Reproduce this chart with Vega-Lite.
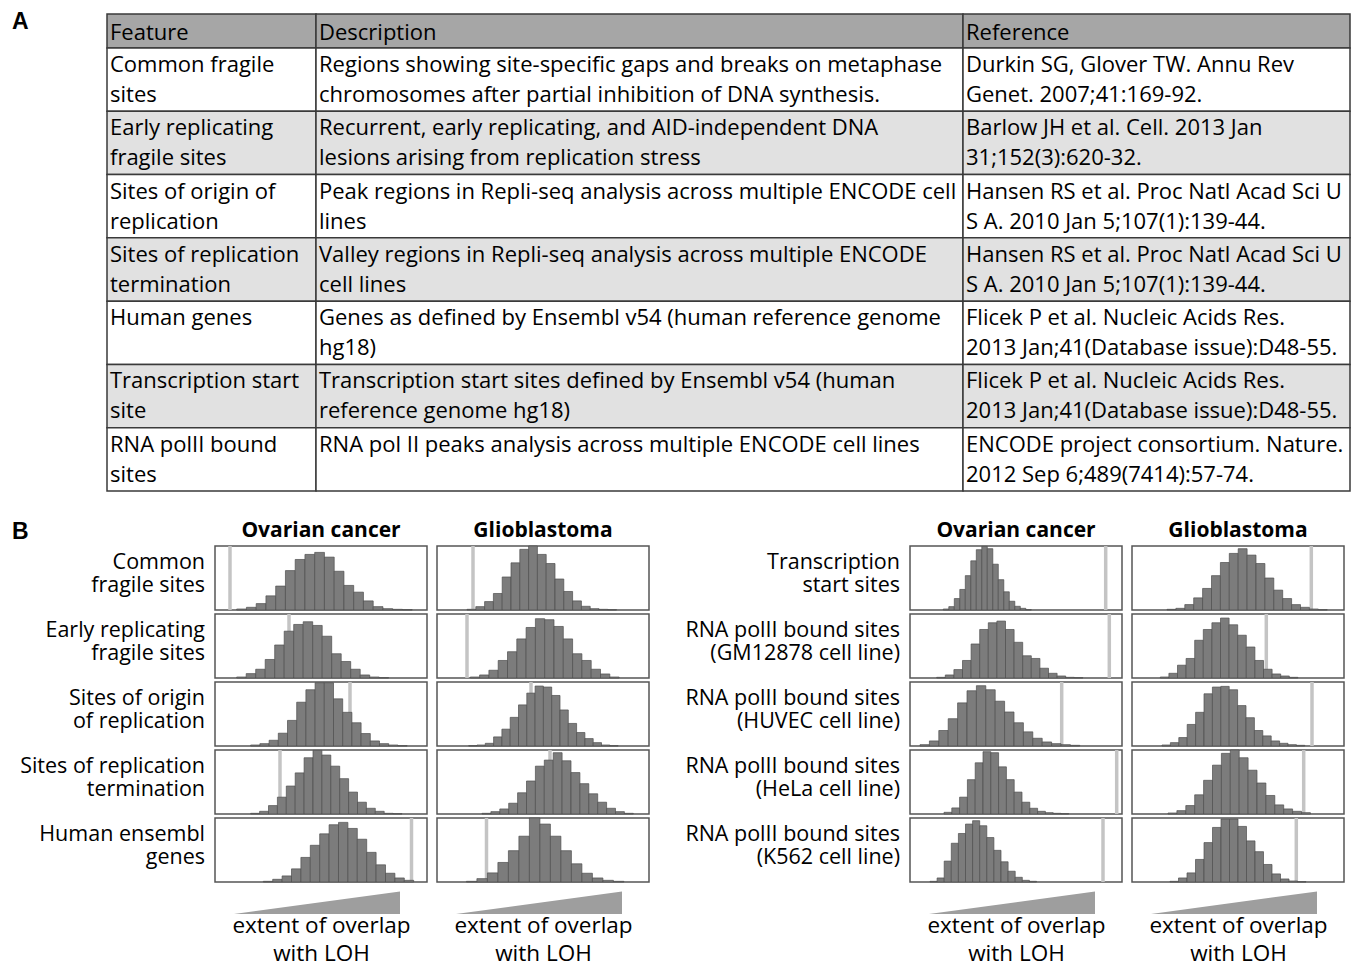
{
  "$schema": "https://vega.github.io/schema/vega-lite/v6.json",
  "padding": {"left": 5, "top": 11, "right": 0, "bottom": 0},
  "background": "white",
  "config": {"view": {"stroke": null}, "font": "Open Sans", "text": {"font": "Open Sans", "color": "#000000"}},
  "datasets": {
    "table": [
      {"r": 1, "feature": "Common fragile\nsites", "description": "Regions showing site-specific gaps and breaks on metaphase\nchromosomes after partial inhibition of DNA synthesis.", "reference": "Durkin SG, Glover TW. Annu Rev\nGenet. 2007;41:169-92."},
      {"r": 2, "feature": "Early replicating\nfragile sites", "description": "Recurrent, early replicating, and AID-independent DNA\nlesions arising from replication stress", "reference": "Barlow JH et al. Cell. 2013 Jan\n31;152(3):620-32."},
      {"r": 3, "feature": "Sites of origin of\nreplication", "description": "Peak regions in Repli-seq analysis across multiple ENCODE cell\nlines", "reference": "Hansen RS et al. Proc Natl Acad Sci U\nS A. 2010 Jan 5;107(1):139-44."},
      {"r": 4, "feature": "Sites of replication\ntermination", "description": "Valley regions in Repli-seq analysis across multiple ENCODE\ncell lines", "reference": "Hansen RS et al. Proc Natl Acad Sci U\nS A. 2010 Jan 5;107(1):139-44."},
      {"r": 5, "feature": "Human  genes", "description": "Genes as defined by Ensembl v54 (human reference genome\nhg18)", "reference": "Flicek P et al. Nucleic Acids Res.\n2013 Jan;41(Database issue):D48-55."},
      {"r": 6, "feature": "Transcription start\nsite", "description": "Transcription start sites defined by Ensembl v54 (human\nreference genome hg18)", "reference": "Flicek P et al. Nucleic Acids Res.\n2013 Jan;41(Database issue):D48-55."},
      {"r": 7, "feature": "RNA polII bound\nsites", "description": "RNA pol II peaks analysis across multiple ENCODE cell lines", "reference": "ENCODE project consortium. Nature.\n2012 Sep 6;489(7414):57-74."}
    ],
    "labels": [
      {"grp": "L", "feat": "1", "lab": "Common\nfragile sites"},
      {"grp": "L", "feat": "2", "lab": "Early replicating\nfragile sites"},
      {"grp": "L", "feat": "3", "lab": "Sites of origin\nof replication"},
      {"grp": "L", "feat": "4", "lab": "Sites of replication\ntermination"},
      {"grp": "L", "feat": "5", "lab": "Human ensembl\ngenes"},
      {"grp": "R", "feat": "1", "lab": "Transcription\nstart sites"},
      {"grp": "R", "feat": "2", "lab": "RNA polII bound sites\n(GM12878 cell line)"},
      {"grp": "R", "feat": "3", "lab": "RNA polII bound sites\n(HUVEC cell line)"},
      {"grp": "R", "feat": "4", "lab": "RNA polII bound sites\n(HeLa cell line)"},
      {"grp": "R", "feat": "5", "lab": "RNA polII bound sites\n(K562 cell line)"}
    ],
    "panels": [
      {"p": "L1o", "grp": "L", "feat": "1", "cancer": "Ovarian cancer", "start": 10.85, "step": 4.875, "obs": 7.5},
      {"p": "L1g", "grp": "L", "feat": "1", "cancer": "Glioblastoma", "start": 15, "step": 4.4, "obs": 18},
      {"p": "L2o", "grp": "L", "feat": "2", "cancer": "Ovarian cancer", "start": 10.85, "step": 4.75, "obs": 37},
      {"p": "L2g", "grp": "L", "feat": "2", "cancer": "Glioblastoma", "start": 16.65, "step": 4.65, "obs": 15},
      {"p": "L3o", "grp": "L", "feat": "3", "cancer": "Ovarian cancer", "start": 17.85, "step": 4.6, "obs": 67.5},
      {"p": "L3g", "grp": "L", "feat": "3", "cancer": "Glioblastoma", "start": 15.85, "step": 4.15, "obs": 47},
      {"p": "L4o", "grp": "L", "feat": "4", "cancer": "Ovarian cancer", "start": 17.85, "step": 4.45, "obs": 32.5},
      {"p": "L4g", "grp": "L", "feat": "4", "cancer": "Glioblastoma", "start": 22.5, "step": 4.45, "obs": 56.5},
      {"p": "L5o", "grp": "L", "feat": "5", "cancer": "Ovarian cancer", "start": 24.15, "step": 4.7, "obs": 98.25},
      {"p": "L5g", "grp": "L", "feat": "5", "cancer": "Glioblastoma", "start": 14.7, "step": 5.25, "obs": 24.75},
      {"p": "R1o", "grp": "R", "feat": "1", "cancer": "Ovarian cancer", "start": 16.65, "step": 2.75, "obs": 97.85},
      {"p": "R1g", "grp": "R", "feat": "1", "cancer": "Glioblastoma", "start": 17.5, "step": 4.45, "obs": 89.65},
      {"p": "R2o", "grp": "R", "feat": "2", "cancer": "Ovarian cancer", "start": 13.35, "step": 4.3, "obs": 99.65},
      {"p": "R2g", "grp": "R", "feat": "2", "cancer": "Glioblastoma", "start": 14.15, "step": 4.3, "obs": 67.15},
      {"p": "R3o", "grp": "R", "feat": "3", "cancer": "Ovarian cancer", "start": 5, "step": 4.7, "obs": 75.85},
      {"p": "R3g", "grp": "R", "feat": "3", "cancer": "Glioblastoma", "start": 15, "step": 4.2, "obs": 90},
      {"p": "R4o", "grp": "R", "feat": "4", "cancer": "Ovarian cancer", "start": 17, "step": 3.9, "obs": 103.35},
      {"p": "R4g", "grp": "R", "feat": "4", "cancer": "Glioblastoma", "start": 18, "step": 4.45, "obs": 85.85},
      {"p": "R5o", "grp": "R", "feat": "5", "cancer": "Ovarian cancer", "start": 10, "step": 3.55, "obs": 96.5},
      {"p": "R5g", "grp": "R", "feat": "5", "cancer": "Glioblastoma", "start": 19, "step": 4.25, "obs": 82.15}
    ],
    "hist": [
      {"p":"L1o","k":0,"n":3},{"p":"L1o","k":1,"n":8},{"p":"L1o","k":2,"n":19},{"p":"L1o","k":3,"n":42},{"p":"L1o","k":4,"n":71},{"p":"L1o","k":5,"n":117},{"p":"L1o","k":6,"n":150},{"p":"L1o","k":7,"n":165},{"p":"L1o","k":8,"n":171},{"p":"L1o","k":9,"n":157},{"p":"L1o","k":10,"n":115},{"p":"L1o","k":11,"n":73},{"p":"L1o","k":12,"n":53},{"p":"L1o","k":13,"n":27},{"p":"L1o","k":14,"n":10},{"p":"L1o","k":15,"n":4},{"p":"L1o","k":16,"n":2},{"p":"L1o","k":17,"n":1},
      {"p":"L1g","k":0,"n":2},{"p":"L1g","k":1,"n":10},{"p":"L1g","k":2,"n":25},{"p":"L1g","k":3,"n":49},{"p":"L1g","k":4,"n":98},{"p":"L1g","k":5,"n":140},{"p":"L1g","k":6,"n":180},{"p":"L1g","k":7,"n":190},{"p":"L1g","k":8,"n":165},{"p":"L1g","k":9,"n":138},{"p":"L1g","k":10,"n":92},{"p":"L1g","k":11,"n":55},{"p":"L1g","k":12,"n":27},{"p":"L1g","k":13,"n":11},{"p":"L1g","k":14,"n":4},{"p":"L1g","k":15,"n":2},{"p":"L1g","k":16,"n":1},
      {"p":"L2o","k":0,"n":3},{"p":"L2o","k":1,"n":13},{"p":"L2o","k":2,"n":26},{"p":"L2o","k":3,"n":55},{"p":"L2o","k":4,"n":98},{"p":"L2o","k":5,"n":139},{"p":"L2o","k":6,"n":159},{"p":"L2o","k":7,"n":167},{"p":"L2o","k":8,"n":156},{"p":"L2o","k":9,"n":124},{"p":"L2o","k":10,"n":72},{"p":"L2o","k":11,"n":49},{"p":"L2o","k":12,"n":26},{"p":"L2o","k":13,"n":9},{"p":"L2o","k":14,"n":3},{"p":"L2o","k":15,"n":1},
      {"p":"L2g","k":0,"n":3},{"p":"L2g","k":1,"n":9},{"p":"L2g","k":2,"n":23},{"p":"L2g","k":3,"n":52},{"p":"L2g","k":4,"n":78},{"p":"L2g","k":5,"n":116},{"p":"L2g","k":6,"n":150},{"p":"L2g","k":7,"n":176},{"p":"L2g","k":8,"n":173},{"p":"L2g","k":9,"n":153},{"p":"L2g","k":10,"n":116},{"p":"L2g","k":11,"n":72},{"p":"L2g","k":12,"n":52},{"p":"L2g","k":13,"n":26},{"p":"L2g","k":14,"n":12},{"p":"L2g","k":15,"n":3},
      {"p":"L3o","k":0,"n":3},{"p":"L3o","k":1,"n":7},{"p":"L3o","k":2,"n":17},{"p":"L3o","k":3,"n":38},{"p":"L3o","k":4,"n":76},{"p":"L3o","k":5,"n":130},{"p":"L3o","k":6,"n":167},{"p":"L3o","k":7,"n":188},{"p":"L3o","k":8,"n":188},{"p":"L3o","k":9,"n":140},{"p":"L3o","k":10,"n":100},{"p":"L3o","k":11,"n":69},{"p":"L3o","k":12,"n":37},{"p":"L3o","k":13,"n":15},{"p":"L3o","k":14,"n":7},{"p":"L3o","k":15,"n":3},{"p":"L3o","k":16,"n":1},
      {"p":"L3g","k":0,"n":1},{"p":"L3g","k":1,"n":3},{"p":"L3g","k":2,"n":8},{"p":"L3g","k":3,"n":27},{"p":"L3g","k":4,"n":50},{"p":"L3g","k":5,"n":85},{"p":"L3g","k":6,"n":122},{"p":"L3g","k":7,"n":157},{"p":"L3g","k":8,"n":178},{"p":"L3g","k":9,"n":175},{"p":"L3g","k":10,"n":150},{"p":"L3g","k":11,"n":107},{"p":"L3g","k":12,"n":67},{"p":"L3g","k":13,"n":40},{"p":"L3g","k":14,"n":22},{"p":"L3g","k":15,"n":10},{"p":"L3g","k":16,"n":3},{"p":"L3g","k":17,"n":1},
      {"p":"L4o","k":0,"n":2},{"p":"L4o","k":1,"n":8},{"p":"L4o","k":2,"n":25},{"p":"L4o","k":3,"n":50},{"p":"L4o","k":4,"n":83},{"p":"L4o","k":5,"n":122},{"p":"L4o","k":6,"n":167},{"p":"L4o","k":7,"n":189},{"p":"L4o","k":8,"n":175},{"p":"L4o","k":9,"n":142},{"p":"L4o","k":10,"n":105},{"p":"L4o","k":11,"n":65},{"p":"L4o","k":12,"n":35},{"p":"L4o","k":13,"n":17},{"p":"L4o","k":14,"n":8},{"p":"L4o","k":15,"n":2},{"p":"L4o","k":16,"n":1},
      {"p":"L4g","k":0,"n":2},{"p":"L4g","k":1,"n":7},{"p":"L4g","k":2,"n":15},{"p":"L4g","k":3,"n":32},{"p":"L4g","k":4,"n":63},{"p":"L4g","k":5,"n":98},{"p":"L4g","k":6,"n":142},{"p":"L4g","k":7,"n":160},{"p":"L4g","k":8,"n":182},{"p":"L4g","k":9,"n":158},{"p":"L4g","k":10,"n":123},{"p":"L4g","k":11,"n":90},{"p":"L4g","k":12,"n":60},{"p":"L4g","k":13,"n":35},{"p":"L4g","k":14,"n":17},{"p":"L4g","k":15,"n":7},{"p":"L4g","k":16,"n":2},
      {"p":"L5o","k":0,"n":2},{"p":"L5o","k":1,"n":8},{"p":"L5o","k":2,"n":18},{"p":"L5o","k":3,"n":39},{"p":"L5o","k":4,"n":73},{"p":"L5o","k":5,"n":109},{"p":"L5o","k":6,"n":143},{"p":"L5o","k":7,"n":170},{"p":"L5o","k":8,"n":177},{"p":"L5o","k":9,"n":159},{"p":"L5o","k":10,"n":127},{"p":"L5o","k":11,"n":88},{"p":"L5o","k":12,"n":51},{"p":"L5o","k":13,"n":26},{"p":"L5o","k":14,"n":12},{"p":"L5o","k":15,"n":5},
      {"p":"L5g","k":0,"n":2},{"p":"L5g","k":1,"n":10},{"p":"L5g","k":2,"n":27},{"p":"L5g","k":3,"n":58},{"p":"L5g","k":4,"n":93},{"p":"L5g","k":5,"n":136},{"p":"L5g","k":6,"n":190},{"p":"L5g","k":7,"n":172},{"p":"L5g","k":8,"n":136},{"p":"L5g","k":9,"n":93},{"p":"L5g","k":10,"n":54},{"p":"L5g","k":11,"n":26},{"p":"L5g","k":12,"n":12},{"p":"L5g","k":13,"n":5},{"p":"L5g","k":14,"n":2},
      {"p":"R1o","k":0,"n":3},{"p":"R1o","k":1,"n":10},{"p":"R1o","k":2,"n":34},{"p":"R1o","k":3,"n":61},{"p":"R1o","k":4,"n":102},{"p":"R1o","k":5,"n":146},{"p":"R1o","k":6,"n":179},{"p":"R1o","k":7,"n":189},{"p":"R1o","k":8,"n":182},{"p":"R1o","k":9,"n":136},{"p":"R1o","k":10,"n":90},{"p":"R1o","k":11,"n":54},{"p":"R1o","k":12,"n":26},{"p":"R1o","k":13,"n":11},{"p":"R1o","k":14,"n":5},{"p":"R1o","k":15,"n":1},
      {"p":"R1g","k":0,"n":2},{"p":"R1g","k":1,"n":5},{"p":"R1g","k":2,"n":16},{"p":"R1g","k":3,"n":36},{"p":"R1g","k":4,"n":64},{"p":"R1g","k":5,"n":102},{"p":"R1g","k":6,"n":141},{"p":"R1g","k":7,"n":168},{"p":"R1g","k":8,"n":182},{"p":"R1g","k":9,"n":163},{"p":"R1g","k":10,"n":138},{"p":"R1g","k":11,"n":95},{"p":"R1g","k":12,"n":59},{"p":"R1g","k":13,"n":34},{"p":"R1g","k":14,"n":16},{"p":"R1g","k":15,"n":8},{"p":"R1g","k":16,"n":3},{"p":"R1g","k":17,"n":1},
      {"p":"R2o","k":0,"n":2},{"p":"R2o","k":1,"n":9},{"p":"R2o","k":2,"n":25},{"p":"R2o","k":3,"n":52},{"p":"R2o","k":4,"n":101},{"p":"R2o","k":5,"n":144},{"p":"R2o","k":6,"n":164},{"p":"R2o","k":7,"n":169},{"p":"R2o","k":8,"n":144},{"p":"R2o","k":9,"n":106},{"p":"R2o","k":10,"n":66},{"p":"R2o","k":11,"n":58},{"p":"R2o","k":12,"n":29},{"p":"R2o","k":13,"n":14},{"p":"R2o","k":14,"n":6},{"p":"R2o","k":15,"n":2},{"p":"R2o","k":16,"n":1},
      {"p":"R2g","k":0,"n":3},{"p":"R2g","k":1,"n":14},{"p":"R2g","k":2,"n":38},{"p":"R2g","k":3,"n":58},{"p":"R2g","k":4,"n":112},{"p":"R2g","k":5,"n":144},{"p":"R2g","k":6,"n":164},{"p":"R2g","k":7,"n":178},{"p":"R2g","k":8,"n":158},{"p":"R2g","k":9,"n":127},{"p":"R2g","k":10,"n":92},{"p":"R2g","k":11,"n":52},{"p":"R2g","k":12,"n":26},{"p":"R2g","k":13,"n":12},{"p":"R2g","k":14,"n":6},{"p":"R2g","k":15,"n":2},
      {"p":"R3o","k":0,"n":4},{"p":"R3o","k":1,"n":15},{"p":"R3o","k":2,"n":46},{"p":"R3o","k":3,"n":81},{"p":"R3o","k":4,"n":128},{"p":"R3o","k":5,"n":164},{"p":"R3o","k":6,"n":179},{"p":"R3o","k":7,"n":167},{"p":"R3o","k":8,"n":133},{"p":"R3o","k":9,"n":101},{"p":"R3o","k":10,"n":69},{"p":"R3o","k":11,"n":42},{"p":"R3o","k":12,"n":23},{"p":"R3o","k":13,"n":12},{"p":"R3o","k":14,"n":7},{"p":"R3o","k":15,"n":4},{"p":"R3o","k":16,"n":2},
      {"p":"R3g","k":0,"n":3},{"p":"R3g","k":1,"n":10},{"p":"R3g","k":2,"n":25},{"p":"R3g","k":3,"n":64},{"p":"R3g","k":4,"n":100},{"p":"R3g","k":5,"n":155},{"p":"R3g","k":6,"n":175},{"p":"R3g","k":7,"n":177},{"p":"R3g","k":8,"n":167},{"p":"R3g","k":9,"n":120},{"p":"R3g","k":10,"n":84},{"p":"R3g","k":11,"n":46},{"p":"R3g","k":12,"n":30},{"p":"R3g","k":13,"n":15},{"p":"R3g","k":14,"n":8},{"p":"R3g","k":15,"n":4},{"p":"R3g","k":16,"n":2},
      {"p":"R4o","k":0,"n":5},{"p":"R4o","k":1,"n":18},{"p":"R4o","k":2,"n":50},{"p":"R4o","k":3,"n":102},{"p":"R4o","k":4,"n":152},{"p":"R4o","k":5,"n":185},{"p":"R4o","k":6,"n":182},{"p":"R4o","k":7,"n":140},{"p":"R4o","k":8,"n":102},{"p":"R4o","k":9,"n":65},{"p":"R4o","k":10,"n":35},{"p":"R4o","k":11,"n":17},{"p":"R4o","k":12,"n":8},{"p":"R4o","k":13,"n":4},{"p":"R4o","k":14,"n":2},{"p":"R4o","k":15,"n":1},
      {"p":"R4g","k":0,"n":3},{"p":"R4g","k":1,"n":10},{"p":"R4g","k":2,"n":25},{"p":"R4g","k":3,"n":57},{"p":"R4g","k":4,"n":100},{"p":"R4g","k":5,"n":145},{"p":"R4g","k":6,"n":180},{"p":"R4g","k":7,"n":190},{"p":"R4g","k":8,"n":167},{"p":"R4g","k":9,"n":130},{"p":"R4g","k":10,"n":92},{"p":"R4g","k":11,"n":55},{"p":"R4g","k":12,"n":27},{"p":"R4g","k":13,"n":15},{"p":"R4g","k":14,"n":8},{"p":"R4g","k":15,"n":4},
      {"p":"R5o","k":0,"n":2},{"p":"R5o","k":1,"n":12},{"p":"R5o","k":2,"n":62},{"p":"R5o","k":3,"n":115},{"p":"R5o","k":4,"n":144},{"p":"R5o","k":5,"n":172},{"p":"R5o","k":6,"n":182},{"p":"R5o","k":7,"n":167},{"p":"R5o","k":8,"n":132},{"p":"R5o","k":9,"n":94},{"p":"R5o","k":10,"n":60},{"p":"R5o","k":11,"n":32},{"p":"R5o","k":12,"n":14},{"p":"R5o","k":13,"n":5},{"p":"R5o","k":14,"n":2},
      {"p":"R5g","k":0,"n":2},{"p":"R5g","k":1,"n":12},{"p":"R5g","k":2,"n":27},{"p":"R5g","k":3,"n":67},{"p":"R5g","k":4,"n":117},{"p":"R5g","k":5,"n":162},{"p":"R5g","k":6,"n":187},{"p":"R5g","k":7,"n":187},{"p":"R5g","k":8,"n":165},{"p":"R5g","k":9,"n":122},{"p":"R5g","k":10,"n":90},{"p":"R5g","k":11,"n":52},{"p":"R5g","k":12,"n":24},{"p":"R5g","k":13,"n":9},{"p":"R5g","k":14,"n":3},{"p":"R5g","k":15,"n":1}
    ]
  },
  "spacing": 28,
  "vconcat": [
    {
      "spacing": 0,
      "hconcat": [
        {
          "width": 101, "height": 34,
          "data": {"values": [{"t": "A"}]},
          "mark": {"type": "text", "align": "left", "baseline": "top", "dx": 7, "dy": -3, "font": "Liberation Sans", "fontWeight": "bold", "fontSize": 23},
          "encoding": {
            "x": {"datum": 0, "type": "quantitative", "scale": {"domain": [0, 1]}, "axis": null},
            "y": {"datum": 1, "type": "quantitative", "scale": {"domain": [0, 1]}, "axis": null},
            "text": {"field": "t"}
          }
        },
        {
          "columns": 3,
          "spacing": 0,
          "align": "each",
          "bounds": "flush",
          "concat": [
            {
              "width": 209, "height": 34,
              "data": {"values": [{"c": "Feature"}]},
              "layer": [
                {"mark": {"type": "rect", "fill": "#a6a6a6", "stroke": "#3a3a3a", "strokeWidth": 1.5},
                 "encoding": {"x": {"datum": 0, "type": "quantitative", "scale": {"domain": [0, 1]}, "axis": null}, "x2": {"datum": 1}, "y": {"datum": 0, "type": "quantitative", "scale": {"domain": [0, 1]}, "axis": null}, "y2": {"datum": 1}}},
                {"mark": {"type": "text", "align": "left", "baseline": "middle", "dx": 3, "dy": 2, "fontSize": 22},
                 "encoding": {"x": {"datum": 0, "type": "quantitative"}, "y": {"datum": 0.5, "type": "quantitative"}, "text": {"field": "c"}}}
              ]
            },
            {
              "width": 647, "height": 34,
              "data": {"values": [{"c": "Description"}]},
              "layer": [
                {"mark": {"type": "rect", "fill": "#a6a6a6", "stroke": "#3a3a3a", "strokeWidth": 1.5},
                 "encoding": {"x": {"datum": 0, "type": "quantitative", "scale": {"domain": [0, 1]}, "axis": null}, "x2": {"datum": 1}, "y": {"datum": 0, "type": "quantitative", "scale": {"domain": [0, 1]}, "axis": null}, "y2": {"datum": 1}}},
                {"mark": {"type": "text", "align": "left", "baseline": "middle", "dx": 3, "dy": 2, "fontSize": 22},
                 "encoding": {"x": {"datum": 0, "type": "quantitative"}, "y": {"datum": 0.5, "type": "quantitative"}, "text": {"field": "c"}}}
              ]
            },
            {
              "width": 387, "height": 34,
              "data": {"values": [{"c": "Reference"}]},
              "layer": [
                {"mark": {"type": "rect", "fill": "#a6a6a6", "stroke": "#3a3a3a", "strokeWidth": 1.5},
                 "encoding": {"x": {"datum": 0, "type": "quantitative", "scale": {"domain": [0, 1]}, "axis": null}, "x2": {"datum": 1}, "y": {"datum": 0, "type": "quantitative", "scale": {"domain": [0, 1]}, "axis": null}, "y2": {"datum": 1}}},
                {"mark": {"type": "text", "align": "left", "baseline": "middle", "dx": 3, "dy": 2, "fontSize": 22},
                 "encoding": {"x": {"datum": 0, "type": "quantitative"}, "y": {"datum": 0.5, "type": "quantitative"}, "text": {"field": "c"}}}
              ]
            },
            {
              "width": 209, "height": 443,
              "data": {"name": "table"},
              "layer": [
                {"mark": {"type": "rect", "stroke": "#3a3a3a", "strokeWidth": 1.5},
                 "encoding": {"x": {"datum": 0, "type": "quantitative", "scale": {"domain": [0, 1]}, "axis": null}, "x2": {"datum": 1},
                   "y": {"field": "r", "type": "ordinal", "scale": {"paddingInner": 0, "paddingOuter": 0}, "axis": null},
                   "fill": {"condition": {"test": "datum.r % 2 == 0", "value": "#e1e1e1"}, "value": "#ffffff"}}},
                {"mark": {"type": "text", "align": "left", "baseline": "top", "dx": 3, "dy": 7, "fontSize": 22, "lineHeight": 30, "lineBreak": "\n"},
                 "encoding": {"x": {"datum": 0, "type": "quantitative"}, "y": {"field": "r", "type": "ordinal", "bandPosition": 0}, "text": {"field": "feature"}}}
              ]
            },
            {
              "width": 647, "height": 443,
              "data": {"name": "table"},
              "layer": [
                {"mark": {"type": "rect", "stroke": "#3a3a3a", "strokeWidth": 1.5},
                 "encoding": {"x": {"datum": 0, "type": "quantitative", "scale": {"domain": [0, 1]}, "axis": null}, "x2": {"datum": 1},
                   "y": {"field": "r", "type": "ordinal", "scale": {"paddingInner": 0, "paddingOuter": 0}, "axis": null},
                   "fill": {"condition": {"test": "datum.r % 2 == 0", "value": "#e1e1e1"}, "value": "#ffffff"}}},
                {"mark": {"type": "text", "align": "left", "baseline": "top", "dx": 3, "dy": 7, "fontSize": 22, "lineHeight": 30, "lineBreak": "\n"},
                 "encoding": {"x": {"datum": 0, "type": "quantitative"}, "y": {"field": "r", "type": "ordinal", "bandPosition": 0}, "text": {"field": "description"}}}
              ]
            },
            {
              "width": 387, "height": 443,
              "data": {"name": "table"},
              "layer": [
                {"mark": {"type": "rect", "stroke": "#3a3a3a", "strokeWidth": 1.5},
                 "encoding": {"x": {"datum": 0, "type": "quantitative", "scale": {"domain": [0, 1]}, "axis": null}, "x2": {"datum": 1},
                   "y": {"field": "r", "type": "ordinal", "scale": {"paddingInner": 0, "paddingOuter": 0}, "axis": null},
                   "fill": {"condition": {"test": "datum.r % 2 == 0", "value": "#e1e1e1"}, "value": "#ffffff"}}},
                {"mark": {"type": "text", "align": "left", "baseline": "top", "dx": 3, "dy": 7, "fontSize": 22, "lineHeight": 30, "lineBreak": "\n"},
                 "encoding": {"x": {"datum": 0, "type": "quantitative"}, "y": {"field": "r", "type": "ordinal", "bandPosition": 0}, "text": {"field": "reference"}}}
              ]
            }
          ]
        }
      ]
    },
    {
      "columns": 6,
      "spacing": {"row": 5, "column": 10},
      "align": "each",
      "bounds": "flush",
      "concat": [
        {
          "width": 200, "height": 20,
          "data": {"values": [{"t": "B"}]},
          "mark": {"type": "text", "align": "left", "baseline": "top", "dx": 7, "dy": 0, "font": "Liberation Sans", "fontWeight": "bold", "fontSize": 23},
          "encoding": {
            "x": {"datum": 0, "type": "quantitative", "scale": {"domain": [0, 1]}, "axis": null},
            "y": {"datum": 1, "type": "quantitative", "scale": {"domain": [0, 1]}, "axis": null},
            "text": {"field": "t"}
          }
        },
        {"width": 212, "height": 20, "data": {"values": [{"t": "Ovarian cancer"}]}, "mark": {"type": "text", "fontWeight": "bold", "fontSize": 21, "baseline": "middle"}, "encoding": {"text": {"field": "t"}}},
        {"width": 212, "height": 20, "data": {"values": [{"t": "Glioblastoma"}]}, "mark": {"type": "text", "fontWeight": "bold", "fontSize": 21, "baseline": "middle"}, "encoding": {"text": {"field": "t"}}},
        {"width": 241, "height": 20, "data": {"values": []}, "mark": {"type": "point", "opacity": 0}},
        {"width": 212, "height": 20, "data": {"values": [{"t": "Ovarian cancer"}]}, "mark": {"type": "text", "fontWeight": "bold", "fontSize": 21, "baseline": "middle"}, "encoding": {"text": {"field": "t"}}},
        {"width": 212, "height": 20, "data": {"values": [{"t": "Glioblastoma"}]}, "mark": {"type": "text", "fontWeight": "bold", "fontSize": 21, "baseline": "middle"}, "encoding": {"text": {"field": "t"}}},

        {
          "width": 200, "height": 336,
          "data": {"name": "labels"},
          "transform": [{"filter": "datum.grp === 'L'"}],
          "mark": {"type": "text", "align": "right", "baseline": "middle", "dy": -15, "fontSize": 21.5, "lineHeight": 23, "lineBreak": "\n"},
          "encoding": {
            "x": {"datum": 1, "type": "quantitative", "scale": {"domain": [0, 1]}, "axis": null},
            "y": {"field": "feat", "type": "nominal", "bandPosition": 0.5, "scale": {"type": "band", "paddingInner": 0.0588, "paddingOuter": 0}, "axis": null},
            "text": {"field": "lab"}
          }
        },
        {
          "data": {"name": "hist"},
          "transform": [
            {"lookup": "p", "from": {"data": {"name": "panels"}, "key": "p", "fields": ["grp", "feat", "cancer", "start", "step", "obs"]}},
            {"filter": "datum.grp === 'L' && datum.cancer === 'Ovarian cancer'"},
            {"calculate": "datum.start + datum.k * datum.step", "as": "lo"},
            {"calculate": "datum.start + (datum.k + 1) * datum.step", "as": "hi"}
          ],
          "facet": {"row": {"field": "feat", "type": "nominal", "header": {"title": null, "labels": false}}},
          "spacing": {"row": 4, "column": 4},
          "bounds": "flush",
          "spec": {
            "width": 212, "height": 64,
            "view": {"stroke": "#555555", "strokeWidth": 1.5},
            "layer": [
              {"transform": [{"filter": "datum.k === 0"}], "mark": {"type": "rule", "color": "#c4c4c4", "strokeWidth": 3.5},
               "encoding": {"x": {"field": "obs", "type": "quantitative", "scale": {"domain": [0, 106], "nice": false}, "axis": null}}},
              {"mark": {"type": "rect", "fill": "#7c7c7c", "stroke": "#4f4f4f", "strokeWidth": 0.7},
               "encoding": {"x": {"field": "lo", "type": "quantitative", "axis": null}, "x2": {"field": "hi"}, "y": {"field": "n", "type": "quantitative", "scale": {"domain": [0, 190], "nice": false}, "axis": null}, "y2": {"datum": 0}}}
            ]
          }
        },
        {
          "data": {"name": "hist"},
          "transform": [
            {"lookup": "p", "from": {"data": {"name": "panels"}, "key": "p", "fields": ["grp", "feat", "cancer", "start", "step", "obs"]}},
            {"filter": "datum.grp === 'L' && datum.cancer === 'Glioblastoma'"},
            {"calculate": "datum.start + datum.k * datum.step", "as": "lo"},
            {"calculate": "datum.start + (datum.k + 1) * datum.step", "as": "hi"}
          ],
          "facet": {"row": {"field": "feat", "type": "nominal", "header": {"title": null, "labels": false}}},
          "spacing": {"row": 4, "column": 4},
          "bounds": "flush",
          "spec": {
            "width": 212, "height": 64,
            "view": {"stroke": "#555555", "strokeWidth": 1.5},
            "layer": [
              {"transform": [{"filter": "datum.k === 0"}], "mark": {"type": "rule", "color": "#c4c4c4", "strokeWidth": 3.5},
               "encoding": {"x": {"field": "obs", "type": "quantitative", "scale": {"domain": [0, 106], "nice": false}, "axis": null}}},
              {"mark": {"type": "rect", "fill": "#7c7c7c", "stroke": "#4f4f4f", "strokeWidth": 0.7},
               "encoding": {"x": {"field": "lo", "type": "quantitative", "axis": null}, "x2": {"field": "hi"}, "y": {"field": "n", "type": "quantitative", "scale": {"domain": [0, 190], "nice": false}, "axis": null}, "y2": {"datum": 0}}}
            ]
          }
        },
        {
          "width": 241, "height": 336,
          "data": {"name": "labels"},
          "transform": [{"filter": "datum.grp === 'R'"}],
          "mark": {"type": "text", "align": "right", "baseline": "middle", "dy": -15, "fontSize": 21.5, "lineHeight": 23, "lineBreak": "\n"},
          "encoding": {
            "x": {"datum": 1, "type": "quantitative", "scale": {"domain": [0, 1]}, "axis": null},
            "y": {"field": "feat", "type": "nominal", "bandPosition": 0.5, "scale": {"type": "band", "paddingInner": 0.0588, "paddingOuter": 0}, "axis": null},
            "text": {"field": "lab"}
          }
        },
        {
          "data": {"name": "hist"},
          "transform": [
            {"lookup": "p", "from": {"data": {"name": "panels"}, "key": "p", "fields": ["grp", "feat", "cancer", "start", "step", "obs"]}},
            {"filter": "datum.grp === 'R' && datum.cancer === 'Ovarian cancer'"},
            {"calculate": "datum.start + datum.k * datum.step", "as": "lo"},
            {"calculate": "datum.start + (datum.k + 1) * datum.step", "as": "hi"}
          ],
          "facet": {"row": {"field": "feat", "type": "nominal", "header": {"title": null, "labels": false}}},
          "spacing": {"row": 4, "column": 4},
          "bounds": "flush",
          "spec": {
            "width": 212, "height": 64,
            "view": {"stroke": "#555555", "strokeWidth": 1.5},
            "layer": [
              {"transform": [{"filter": "datum.k === 0"}], "mark": {"type": "rule", "color": "#c4c4c4", "strokeWidth": 3.5},
               "encoding": {"x": {"field": "obs", "type": "quantitative", "scale": {"domain": [0, 106], "nice": false}, "axis": null}}},
              {"mark": {"type": "rect", "fill": "#7c7c7c", "stroke": "#4f4f4f", "strokeWidth": 0.7},
               "encoding": {"x": {"field": "lo", "type": "quantitative", "axis": null}, "x2": {"field": "hi"}, "y": {"field": "n", "type": "quantitative", "scale": {"domain": [0, 190], "nice": false}, "axis": null}, "y2": {"datum": 0}}}
            ]
          }
        },
        {
          "data": {"name": "hist"},
          "transform": [
            {"lookup": "p", "from": {"data": {"name": "panels"}, "key": "p", "fields": ["grp", "feat", "cancer", "start", "step", "obs"]}},
            {"filter": "datum.grp === 'R' && datum.cancer === 'Glioblastoma'"},
            {"calculate": "datum.start + datum.k * datum.step", "as": "lo"},
            {"calculate": "datum.start + (datum.k + 1) * datum.step", "as": "hi"}
          ],
          "facet": {"row": {"field": "feat", "type": "nominal", "header": {"title": null, "labels": false}}},
          "spacing": {"row": 4, "column": 4},
          "bounds": "flush",
          "spec": {
            "width": 212, "height": 64,
            "view": {"stroke": "#555555", "strokeWidth": 1.5},
            "layer": [
              {"transform": [{"filter": "datum.k === 0"}], "mark": {"type": "rule", "color": "#c4c4c4", "strokeWidth": 3.5},
               "encoding": {"x": {"field": "obs", "type": "quantitative", "scale": {"domain": [0, 106], "nice": false}, "axis": null}}},
              {"mark": {"type": "rect", "fill": "#7c7c7c", "stroke": "#4f4f4f", "strokeWidth": 0.7},
               "encoding": {"x": {"field": "lo", "type": "quantitative", "axis": null}, "x2": {"field": "hi"}, "y": {"field": "n", "type": "quantitative", "scale": {"domain": [0, 190], "nice": false}, "axis": null}, "y2": {"datum": 0}}}
            ]
          }
        },

        {"width": 200, "height": 27, "data": {"values": []}, "mark": {"type": "point", "opacity": 0}},
        {
          "width": 212, "height": 27,
          "data": {"values": [{"u": 0, "v": 0}, {"u": 1, "v": 1}]},
          "mark": {"type": "area", "color": "#9e9e9e"},
          "encoding": {
            "x": {"field": "u", "type": "quantitative", "scale": {"domain": [-0.1145, 1.1627], "nice": false, "zero": false},
                  "axis": {"title": ["extent of overlap", "with LOH"], "labels": false, "ticks": false, "domain": false, "grid": false, "titleFont": "Open Sans", "titleFontSize": 22.5, "titleFontWeight": "normal", "titleColor": "#000000", "titleLineHeight": 28, "titlePadding": 0}},
            "y": {"field": "v", "type": "quantitative", "scale": {"domain": [0, 1.2], "nice": false}, "axis": null}
          }
        },
        {
          "width": 212, "height": 27,
          "data": {"values": [{"u": 0, "v": 0}, {"u": 1, "v": 1}]},
          "mark": {"type": "area", "color": "#9e9e9e"},
          "encoding": {
            "x": {"field": "u", "type": "quantitative", "scale": {"domain": [-0.1145, 1.1627], "nice": false, "zero": false},
                  "axis": {"title": ["extent of overlap", "with LOH"], "labels": false, "ticks": false, "domain": false, "grid": false, "titleFont": "Open Sans", "titleFontSize": 22.5, "titleFontWeight": "normal", "titleColor": "#000000", "titleLineHeight": 28, "titlePadding": 0}},
            "y": {"field": "v", "type": "quantitative", "scale": {"domain": [0, 1.2], "nice": false}, "axis": null}
          }
        },
        {"width": 241, "height": 27, "data": {"values": []}, "mark": {"type": "point", "opacity": 0}},
        {
          "width": 212, "height": 27,
          "data": {"values": [{"u": 0, "v": 0}, {"u": 1, "v": 1}]},
          "mark": {"type": "area", "color": "#9e9e9e"},
          "encoding": {
            "x": {"field": "u", "type": "quantitative", "scale": {"domain": [-0.1145, 1.1627], "nice": false, "zero": false},
                  "axis": {"title": ["extent of overlap", "with LOH"], "labels": false, "ticks": false, "domain": false, "grid": false, "titleFont": "Open Sans", "titleFontSize": 22.5, "titleFontWeight": "normal", "titleColor": "#000000", "titleLineHeight": 28, "titlePadding": 0}},
            "y": {"field": "v", "type": "quantitative", "scale": {"domain": [0, 1.2], "nice": false}, "axis": null}
          }
        },
        {
          "width": 212, "height": 27,
          "data": {"values": [{"u": 0, "v": 0}, {"u": 1, "v": 1}]},
          "mark": {"type": "area", "color": "#9e9e9e"},
          "encoding": {
            "x": {"field": "u", "type": "quantitative", "scale": {"domain": [-0.1145, 1.1627], "nice": false, "zero": false},
                  "axis": {"title": ["extent of overlap", "with LOH"], "labels": false, "ticks": false, "domain": false, "grid": false, "titleFont": "Open Sans", "titleFontSize": 22.5, "titleFontWeight": "normal", "titleColor": "#000000", "titleLineHeight": 28, "titlePadding": 0}},
            "y": {"field": "v", "type": "quantitative", "scale": {"domain": [0, 1.2], "nice": false}, "axis": null}
          }
        }
      ]
    }
  ]
}
